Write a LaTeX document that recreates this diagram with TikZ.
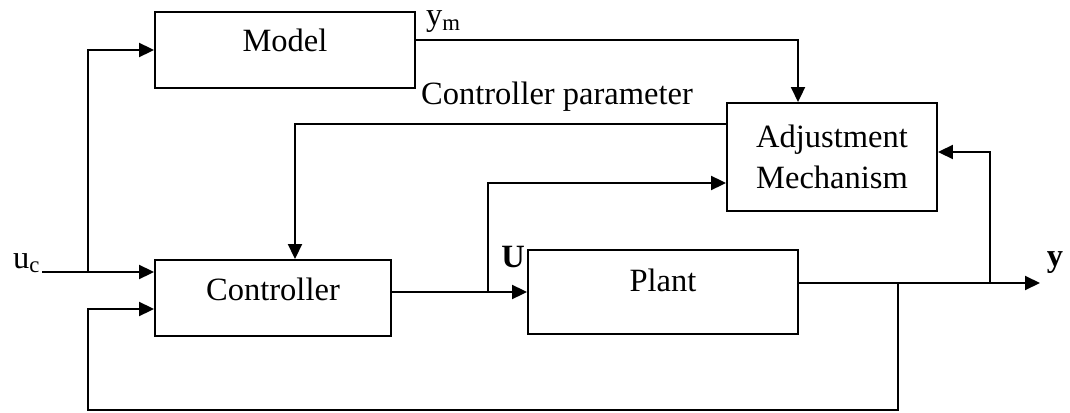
\documentclass[tikz,border=0pt]{standalone}
\usepackage{fontspec}
\setmainfont{Liberation Serif}
\usepackage{tikz}
\usetikzlibrary{arrows.meta, positioning, calc}

\begin{document}
\begin{tikzpicture}[x=0.02cm, y=-0.02cm,
    font=\fontsize{18.5}{23}\selectfont,
    blk/.style={draw, line width=1.1pt, inner sep=2pt},
    arr/.style={-{Triangle[length=0.3cm, width=0.28cm]}, line width=1.1pt},
    lbl/.style={inner sep=1pt}]
    \useasboundingbox (0, 0) rectangle (1070, 412);

    % Blocks
    \node[blk, minimum width=5.2cm, minimum height=1.52cm, text depth=0.4cm] (model) at (285, 50) {Model};
    \node[blk, minimum width=4.72cm, minimum height=1.52cm, text depth=0.36cm] (ctrl) at (273, 298) {Controller};
    \node[blk, minimum width=5.4cm, minimum height=1.68cm, text depth=0.48cm] (plant) at (663, 292) {Plant};
    \node[blk, minimum width=4.2cm, minimum height=2.16cm, align=center] (adj) at (832, 157) {Adjustment\\Mechanism};

    % Labels
    \node[lbl, anchor=base west] (uc) at (11, 268) {u\textsubscript{c}};
    \node[lbl, anchor=base west] (ym) at (424, 26) {y\textsubscript{m}};
    \node[lbl] (param) at (557, 97) {Controller parameter};
    \node[lbl] (ulbl) at (513, 257) {\bfseries U};
    \node[lbl] (ylbl) at (1055, 263) {\bfseries y};

    % Branch points
    \coordinate (split1) at (88, 272);
    \coordinate (split2) at (488, 292);
    \coordinate (split3) at (990, 283);
    \coordinate (fbtop) at (898, 283);
    \coordinate (fbbot) at (898, 410);
    \coordinate (fbleft) at (88, 410);
    \coordinate (yend) at (1040, 283);

    % Signals
    \draw[arr] (uc.east |- split1) -- (ctrl.west |- split1);
    \draw[arr] (split1) |- (model.west);
    \draw[arr] ([yshift=0.2cm]model.east) -| ([xshift=-0.68cm]adj.north);
    \draw[arr] ([yshift=0.66cm]adj.west) -| ([xshift=0.44cm]ctrl.north);
    \draw[arr] (ctrl.east |- plant.west) -- (plant.west);
    \draw[arr] (split2) |- ([yshift=-0.52cm]adj.west);
    \draw[arr] (plant.east |- yend) -- (yend);
    \draw[arr] (split3) |- ([yshift=0.1cm]adj.east);

    % Feedback
    \draw[arr] (fbtop) -- (fbbot) -- (fbleft) |- ([yshift=-0.22cm]ctrl.west);
\end{tikzpicture}
\end{document}
